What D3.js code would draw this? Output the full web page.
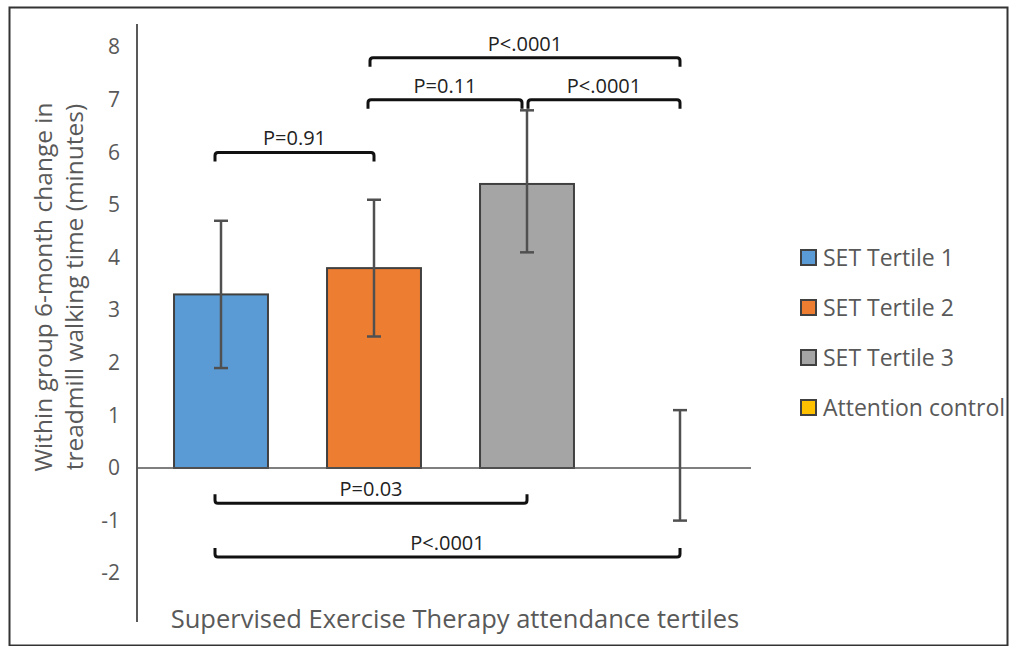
<!DOCTYPE html>
<html>
<head>
<meta charset="utf-8">
<script src="https://cdn.jsdelivr.net/npm/d3@7"></script>
<style>
  body { margin: 0; background: #fff; }
  text { font-family: "Open Sans", sans-serif; }
</style>
</head>
<body>
<svg id="chart" width="1010" height="646"></svg>
<script>
// data
const groups = ['SET Tertile 1', 'SET Tertile 2', 'SET Tertile 3', 'Attention control'];
const means = [3.3, 3.8, 5.4, 0];
const lowErr = [1.9, 2.5, 4.1, -1.0];
const highErr = [4.7, 5.1, 6.8, 1.1];
const colors = ['#5b9bd5', '#ed7d31', '#a5a5a5', '#ffc000'];
const yTicks = [-2, -1, 0, 1, 2, 3, 4, 5, 6, 7, 8];

// pairwise comparisons: from group, to group, bracket level (y value), label
const compFrom = [0, 1, 2, 1, 0, 0];
const compTo = [1, 2, 3, 3, 2, 3];
const compLevel = [6.0, 7.0, 7.0, 7.8, -0.67, -1.69];
const compLabel = ['P=0.91', 'P=0.11', 'P<.0001', 'P<.0001', 'P=0.03', 'P<.0001'];

const svg = d3.select('#chart');
const grey = '#595959';

// outer frame
svg.append('rect')
  .attr('x', 9.5).attr('y', 7.5)
  .attr('width', 998).attr('height', 638)
  .attr('fill', 'none').attr('stroke', '#333').attr('stroke-width', 2);

const x = d3.scaleBand()
  .domain(groups)
  .range([144.5, 756.5])
  .paddingInner(0.386)
  .paddingOuter(0.193);

const y = d3.scaleLinear()
  .domain([-2, 8])
  .range([573.2, 47.2]);

// y axis (line + labels only)
const yAxis = d3.axisLeft(y).tickValues(yTicks).tickSize(0).tickPadding(17)
  .tickFormat(d => String(d));
const gy = svg.append('g').attr('transform', 'translate(137,0)').call(yAxis);
gy.select('.domain').remove();
gy.selectAll('text')
  .attr('fill', grey)
  .style('font-size', '21px')
  .style('font-family', '"Open Sans", sans-serif');
svg.append('line')
  .attr('x1', 137).attr('x2', 137)
  .attr('y1', 24).attr('y2', 622)
  .attr('stroke', '#222').attr('stroke-width', 1.5);

// bars
svg.selectAll('rect.bar')
  .data(groups.slice(0, 3))
  .enter().append('rect')
  .attr('class', 'bar')
  .attr('x', d => x(d))
  .attr('width', x.bandwidth())
  .attr('y', (d, i) => y(means[i]))
  .attr('height', (d, i) => y(0) - y(means[i]))
  .attr('fill', (d, i) => colors[i])
  .attr('stroke', '#404040')
  .attr('stroke-width', 2);

// zero line
svg.append('line')
  .attr('x1', 137).attr('x2', 751)
  .attr('y1', y(0)).attr('y2', y(0))
  .attr('stroke', '#555').attr('stroke-width', 1.5);

// error bars
const cx = i => x(groups[i]) + x.bandwidth() / 2;
const eb = svg.append('g').attr('stroke', '#505050').attr('stroke-width', 2.5);
groups.forEach((g, i) => {
  eb.append('line')
    .attr('x1', cx(i)).attr('x2', cx(i))
    .attr('y1', y(lowErr[i])).attr('y2', y(highErr[i]));
  [lowErr[i], highErr[i]].forEach(v => {
    eb.append('line')
      .attr('x1', cx(i) - 7).attr('x2', cx(i) + 7)
      .attr('y1', y(v)).attr('y2', y(v));
  });
});

// significance brackets
const br = svg.append('g');
compFrom.forEach((f, k) => {
  const up = compLevel[k] > 0;
  let x1 = cx(f) - 6, x2 = cx(compTo[k]);
  if (k === 1) x2 = cx(compTo[k]) - 5;
  if (k === 2) x1 = cx(f) + 1;
  if (k === 3) x1 = cx(f) - 4;
  const yy = y(compLevel[k]);
  const h = up ? 9 : -9;
  const r = up ? 3 : -3;
  br.append('path')
    .attr('d', `M${x1},${yy + h} L${x1},${yy + r} Q${x1},${yy} ${x1 + 3},${yy} L${x2 - 3},${yy} Q${x2},${yy} ${x2},${yy + r} L${x2},${yy + h}`)
    .attr('fill', 'none')
    .attr('stroke', '#111')
    .attr('stroke-width', 3);
  br.append('text')
    .attr('x', (x1 + x2) / 2)
    .attr('y', yy - 7)
    .attr('text-anchor', 'middle')
    .attr('fill', '#222')
    .style('font-size', '20px')
    .text(compLabel[k]);
});

// legend
const lg = svg.append('g').attr('transform', 'translate(801,250)');
groups.forEach((g, i) => {
  const row = lg.append('g').attr('transform', `translate(0,${i * 50})`);
  row.append('rect')
    .attr('x', 0).attr('y', 0).attr('width', 15).attr('height', 15)
    .attr('fill', colors[i]).attr('stroke', '#404040').attr('stroke-width', 2);
  row.append('text')
    .attr('x', 22).attr('y', 16)
    .attr('fill', grey)
    .style('font-size', '23px')
    .text(g);
});

// axis titles
svg.append('text')
  .attr('x', 455).attr('y', 628)
  .attr('text-anchor', 'middle')
  .attr('fill', grey)
  .style('font-size', '25.5px')
  .text('Supervised Exercise Therapy attendance tertiles');

const yt = svg.append('text')
  .attr('transform', 'translate(52,287) rotate(-90)')
  .attr('text-anchor', 'middle')
  .attr('fill', grey)
  .style('font-size', '24.5px');
yt.append('tspan').attr('x', 0).attr('dy', 0).text('Within group 6-month change in');
yt.append('tspan').attr('x', 0).attr('dy', 31).text('treadmill walking time (minutes)');
</script>
</body>
</html>
